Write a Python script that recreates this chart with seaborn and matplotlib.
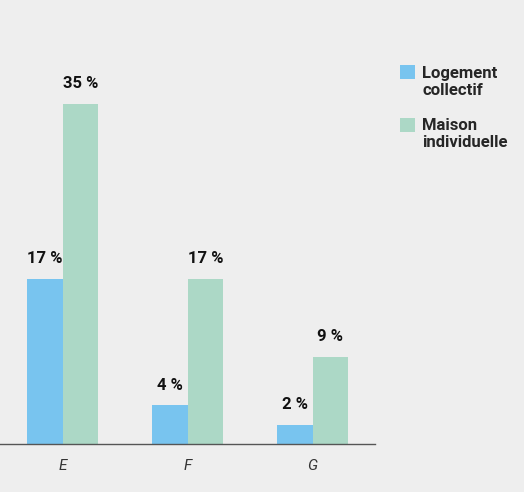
import matplotlib
matplotlib.use("Agg")
import matplotlib.pyplot as plt
import seaborn as sns
import pandas as pd

categories = ["E", "F", "G"]
series_names = ["Logement\ncollectif", "Maison\nindividuelle"]
logement_collectif = [17, 4, 2]
maison_individuelle = [35, 17, 9]
colors = ["#78c4ef", "#acd8c6"]

df = pd.DataFrame({
    "cat": categories * 2,
    "val": logement_collectif + maison_individuelle,
    "serie": [series_names[0]] * 3 + [series_names[1]] * 3,
})

sns.set_theme(style="white")
plt.rcParams["font.family"] = ["Roboto", "DejaVu Sans"]

bg = "#eeeeee"
fig = plt.figure(figsize=(5.24, 4.92), dpi=100, facecolor=bg)
ax = fig.add_axes([0, 48 / 492, 375 / 524, 444 / 492])
ax.set_facecolor(bg)

sns.barplot(data=df, x="cat", y="val", hue="serie", order=categories,
            hue_order=series_names, palette=colors, width=0.57,
            saturation=1, ax=ax, linewidth=0)

ax.set_ylim(0, 45.7)
ax.set_xlim(-0.5, 2.5)
for s in ["top", "right", "left"]:
    ax.spines[s].set_visible(False)
ax.spines["bottom"].set_color("#555555")
ax.spines["bottom"].set_linewidth(1.0)
ax.set_yticks([])
ax.set_xlabel("")
ax.set_ylabel("")
ax.tick_params(axis="x", length=0, pad=11, labelsize=11, labelcolor="#333333")
for t in ax.get_xticklabels():
    t.set_fontstyle("italic")

for cont in ax.containers:
    for bar in cont:
        h = bar.get_height()
        ax.annotate(f"{h:.0f} %", (bar.get_x() + bar.get_width() / 2, h),
                    xytext=(0, 9), textcoords="offset points",
                    ha="center", va="bottom", fontsize=12, fontweight="bold",
                    color="#111111")

handles, labels = ax.get_legend_handles_labels()
leg = ax.legend(handles, labels, loc="upper left", bbox_to_anchor=(393 / 524, 1 - 59 / 492),
                bbox_transform=fig.transFigure, frameon=False,
                prop={"weight": "bold", "size": 12}, handlelength=0.9, handleheight=0.9,
                handletextpad=0.45, labelspacing=1.2, borderaxespad=0)
for hnd in leg.legend_handles:
    hnd.set_y(hnd.get_y() + 7)

fig.savefig("out.png", dpi=100, facecolor=bg)
